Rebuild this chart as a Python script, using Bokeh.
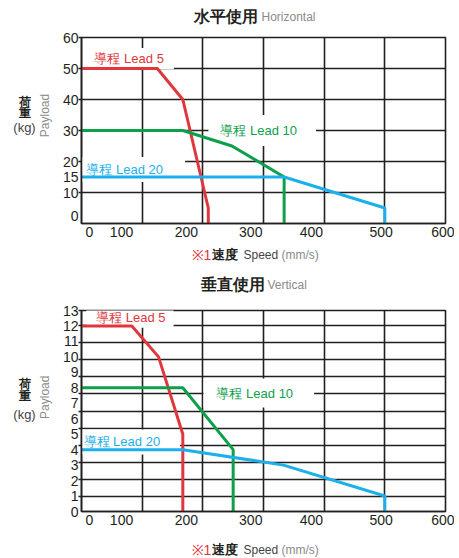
import math
from bokeh.plotting import figure
from bokeh.models import Range1d, FixedTicker, Label
from bokeh.layouts import column, row
from bokeh.core.properties import value
from bokeh.embed import file_html
from bokeh.resources import INLINE

# ---------------- data ----------------
# Horizontal use (水平使用)
h_speed_lead5 = [0, 125, 167, 209, 209]
h_load_lead5 = [50, 50, 40, 5, 0]
h_speed_lead10 = [0, 167, 248, 334, 334]
h_load_lead10 = [30, 30, 25, 15, 0]
h_speed_lead20 = [0, 334, 500, 500]
h_load_lead20 = [15, 15, 5, 0]

# Vertical use (垂直使用)
v_speed_lead5 = [0, 83, 127, 167, 167]
v_load_lead5 = [12, 12, 10, 5, 0]
v_speed_lead10 = [0, 167, 250, 250]
v_load_lead10 = [8, 8, 4, 0]
v_speed_lead20 = [0, 167, 333, 500, 500]
v_load_lead20 = [4, 4, 3, 1, 0]

# tick labels (as printed in the original, slightly offset from the grid)
x_tick_labels = ["0", "100", "200", "300", "400", "500", "600"]
x_tick_at = [13, 66, 173, 279, 379, 494, 600]
x_grid = [100, 200, 300, 400, 500]

h_y_tick_labels = ["0", "10", "15", "20", "30", "40", "50", "60"]
h_y_tick_at = [2.3, 10, 15, 20, 30, 40, 50, 60]
h_y_grid = [10, 20, 30, 40, 50]

v_y_tick_labels = [str(i) for i in range(14)]
v_y_tick_at = list(range(14))
v_y_grid = [1.0, 2.1, 3.2, 4.3, 5.4, 6.5, 7.6, 8.7, 9.8, 10.9, 12.0]

lead_names = ["導程 Lead 5", "導程 Lead 10", "導程 Lead 20"]

# ---------------- style ----------------
RED = "#e1363c"
GREEN = "#0da04b"
BLUE = "#1bb0ea"
INK = "#231f20"
GRAY = "#8a8a8a"
DARK = "#444444"
FONT = "Liberation Sans"
W = 454
YT_W = 54


def make_fig(height, yr, btop, bbot, yticks, ylabels, ygrid):
    p = figure(width=W - YT_W, height=height, x_range=Range1d(0, 600), y_range=Range1d(*yr),
               output_backend="svg", toolbar_location=None,
               min_border_left=81 - YT_W, min_border_right=9,
               min_border_top=btop, min_border_bottom=bbot)
    p.background_fill_color = "white"
    p.border_fill_color = "white"
    p.outline_line_color = INK
    p.outline_line_width = 1.6

    p.xaxis.ticker = FixedTicker(ticks=x_tick_at)
    p.xaxis.major_label_overrides = {t: l for t, l in zip(x_tick_at, x_tick_labels)}
    p.yaxis.ticker = FixedTicker(ticks=yticks, minor_ticks=list(ygrid) + [yr[1]])
    p.yaxis.major_label_overrides = {t: l for t, l in zip(yticks, ylabels)}
    for ax in (p.xaxis[0], p.yaxis[0]):
        ax.axis_line_color = INK
        ax.axis_line_width = 1.6
        ax.major_label_text_font = FONT
        ax.major_label_text_font_size = "14px"
        ax.major_label_text_color = INK
        ax.major_tick_line_color = None
        ax.major_tick_out = 0
        ax.major_tick_in = 0
    p.xaxis.major_label_standoff = 3
    p.yaxis.major_label_standoff = 0
    p.xaxis.minor_tick_line_color = None
    p.yaxis.minor_tick_line_color = INK
    p.yaxis.minor_tick_line_width = 1.6
    p.yaxis.minor_tick_out = 3
    p.yaxis.minor_tick_in = 0

    p.xgrid.ticker = FixedTicker(ticks=x_grid)
    p.ygrid.ticker = FixedTicker(ticks=ygrid)
    for g in (p.xgrid[0], p.ygrid[0]):
        g.grid_line_color = INK
        g.grid_line_width = 1.6
        g.grid_line_alpha = 1.0
    return p


def lead_label(p, x, y, text, color, pad):
    l, r, t, b = pad
    lab = Label(x=x, y=y, text=text, text_color=color, text_font=FONT,
                text_font_size="13px", text_align="left", text_baseline="middle",
                x_offset=-l, background_fill_color="white",
                padding=dict(left=l, right=r, top=t, bottom=b), level="underlay")
    p.add_layout(lab)


def text_fig(w, h, items):
    f = figure(width=w, height=h, x_range=Range1d(0, w), y_range=Range1d(0, h),
               output_backend="svg", toolbar_location=None,
               x_axis_type=None, y_axis_type=None, min_border=0)
    f.grid.visible = False
    f.outline_line_color = None
    f.background_fill_color = "white"
    f.border_fill_color = "white"
    for (x, y, text, color, size, bold, align, angle) in items:
        f.text(x=[x], y=[h - y], text=[text], text_color=color,
               text_font=value(FONT), text_font_size=size,
               text_font_style="bold" if bold else "normal",
               text_align=align, text_baseline="middle", angle=angle)
    return f


def title_fig(h, cn, en, x_cn, x_en, y):
    return text_fig(W, h, [(x_cn, y, cn, INK, "16px", True, "left", 0.0),
                           (x_en, y, en, GRAY, "12px", False, "left", 0.0)])


def ytitle_fig(h, ys):
    return text_fig(YT_W, h, [(24, ys[0], "荷", INK, "12px", True, "center", 0.0),
                              (24, ys[1], "重", INK, "12px", True, "center", 0.0),
                              (24, ys[2], "(kg)", DARK, "13px", False, "center", 0.0),
                              (44, ys[3], "Payload", GRAY, "12px", False, "center", math.pi / 2)])


def xtitle_fig(h, y):
    return text_fig(W, h, [(191, y, "※1", RED, "14px", False, "left", 0.0),
                           (211, y, "速度", INK, "13px", True, "left", 0.0),
                           (243, y, "Speed", DARK, "12px", False, "left", 0.0),
                           (281, y, "(mm/s)", GRAY, "12px", False, "left", 0.0)])


# ---------------- horizontal chart ----------------
p1 = make_fig(9 + 186 + 22, (0, 60), 9, 22, h_y_tick_at, h_y_tick_labels, h_y_grid)
lead_label(p1, 21.4, 53.2, lead_names[0], RED, (6, 10, 3, 3))
lead_label(p1, 229, 30, lead_names[1], GREEN, (12, 19, 8, 8))
lead_label(p1, 8.2, 17.4, lead_names[2], BLUE, (5, 22, 5, 5))
p1.line(h_speed_lead5, h_load_lead5, line_color=RED, line_width=3)
p1.line(h_speed_lead10, h_load_lead10, line_color=GREEN, line_width=3)
p1.line(h_speed_lead20, h_load_lead20, line_color=BLUE, line_width=3)

chart1 = column(title_fig(28, "水平使用", "Horizontal", 193, 261, 16),
                row(ytitle_fig(9 + 186 + 22, (75, 88, 105, 91)), p1, spacing=0),
                xtitle_fig(24, 9), spacing=0)

# ---------------- vertical chart ----------------
p2 = make_fig(11 + 201 + 22, (0, 13), 11, 22, v_y_tick_at, v_y_tick_labels, v_y_grid)
lead_label(p2, 24.2, 12.56, lead_names[0], RED, (10, 8, 3, 3))
lead_label(p2, 222.5, 7.66, lead_names[1], GREEN, (13, 21, 7, 7))
lead_label(p2, 3.3, 4.5, lead_names[2], BLUE, (5, 20, 5, 5))
p2.line(v_speed_lead5, v_load_lead5, line_color=RED, line_width=3)
p2.line(v_speed_lead10, v_load_lead10, line_color=GREEN, line_width=3)
p2.line(v_speed_lead20, v_load_lead20, line_color=BLUE, line_width=3)

chart2 = column(title_fig(30, "垂直使用", "Vertical", 200, 267, 15),
                row(ytitle_fig(11 + 201 + 22, (86, 100, 121, 101)), p2, spacing=0),
                xtitle_fig(24, 16), spacing=0)

layout = column(chart1, chart2, spacing=0)
open("out.html", "w").write(file_html(layout, INLINE))
